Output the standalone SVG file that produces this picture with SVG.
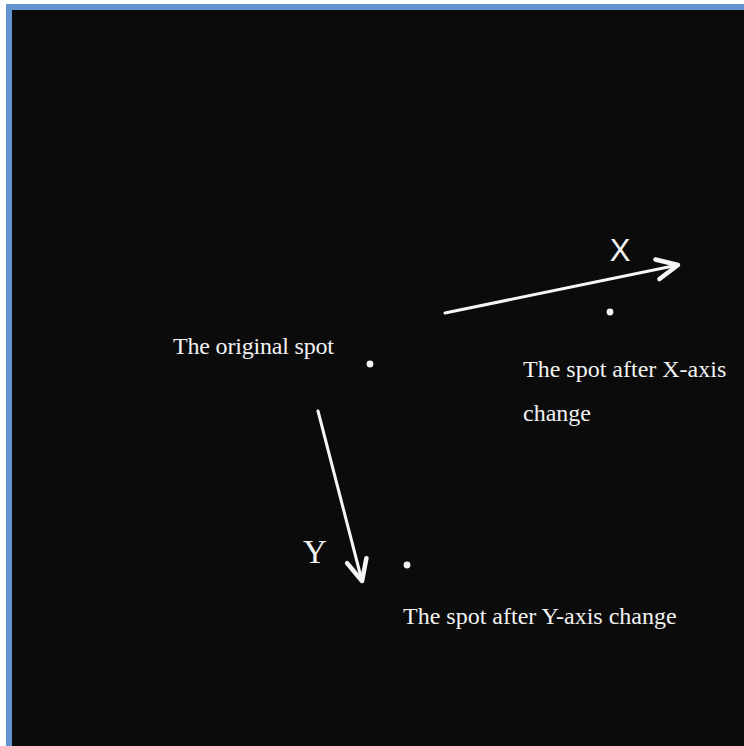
<svg xmlns="http://www.w3.org/2000/svg" width="744" height="746" viewBox="0 0 744 746">
<defs>
<style>
.frame{fill:#6494cd}
.bg{fill:#0b0b0b}
.spot{fill:#f4f4f4}
.lbl{font-family:"Liberation Serif","Times New Roman",serif;font-size:24px;fill:#f2f2f2}
.axis{fill:#f4f4f4}
.arrow{stroke:#f6f6f6;stroke-width:3;fill:none;stroke-linecap:round}
</style>
<marker id="chev" markerUnits="userSpaceOnUse" viewBox="-26 -14 30 28" markerWidth="30" markerHeight="28" refX="0" refY="0" orient="auto">
<path d="M -21 -10 L 0 0 L -21 10" fill="none" stroke="#f6f6f6" stroke-width="4.5" stroke-linecap="round" stroke-linejoin="round"/>
</marker>
</defs>
<rect x="0" y="0" width="744" height="746" fill="#ffffff"/>
<rect class="frame" x="6" y="4" width="738" height="742"/>
<rect class="bg" x="12" y="10" width="732" height="736"/>
<g id="connectors">
<line class="arrow" x1="445" y1="313" x2="678" y2="265" marker-end="url(#chev)"/>
<line class="arrow" x1="318" y1="411" x2="362" y2="581" marker-end="url(#chev)"/>
</g>
<g id="original-spot">
<circle class="spot" cx="370" cy="364" r="3.4"/>
<text class="lbl" x="173" y="354" textLength="161">The original spot</text>
</g>
<g id="x-spot">
<circle class="spot" cx="610" cy="312" r="3.4"/>
<text class="lbl" x="523" y="377">The spot after X-axis</text>
<text class="lbl" x="523" y="421">change</text>
</g>
<g id="y-spot">
<circle class="spot" cx="407" cy="565" r="3.4"/>
<text class="lbl" x="403" y="624">The spot after Y-axis change</text>
</g>
<g id="x-label">
<text class="axis" x="620" y="261" text-anchor="middle" font-family="Liberation Sans, Arial, sans-serif" font-size="31">X</text>
</g>
<g id="y-label">
<text class="axis" x="315" y="563" text-anchor="middle" font-family="Liberation Serif, Times New Roman, serif" font-size="33">Y</text>
</g>
</svg>
